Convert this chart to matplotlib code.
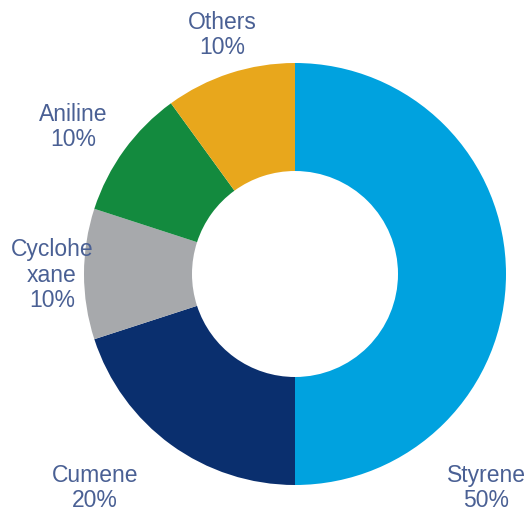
import matplotlib
matplotlib.use("Agg")
import matplotlib.pyplot as plt

labels = ["Styrene", "Cumene", "Cyclohexane", "Aniline", "Others"]
display_labels = ["Styrene\n50%", "Cumene\n20%", "Cyclohe\nxane\n10%", "Aniline\n10%", "Others\n10%"]
values = [50, 20, 10, 10, 10]
colors = ["#00A2DF", "#0A2F6E", "#A7A9AC", "#138A3E", "#E8A71C"]

W, H = 526, 512
fig = plt.figure(figsize=(W / 100, H / 100), dpi=100)
ax = fig.add_axes([0, 0, 1, 1])

cx, cy, R = 295, H - 274, 211
ax.pie(values, colors=colors, startangle=90, counterclock=False,
       center=(cx, cy), radius=R, frame=True,
       wedgeprops=dict(width=R - 103, edgecolor="none"))
ax.set_xlim(0, W)
ax.set_ylim(0, H)
ax.set_aspect("equal")
ax.axis("off")

label_pos = [(486, 488), (95, 488), (52, 275), (73, 127), (222, 35)]
txt_color = "#4A6094"
for t, (x, y) in zip(display_labels, label_pos):
    ax.text(x, H - y, t, ha="center", va="center", fontsize=16.5,
            family="Liberation Sans", color=txt_color, linespacing=1.12,
            fontweight="medium")

fig.savefig("out.png", dpi=100)
